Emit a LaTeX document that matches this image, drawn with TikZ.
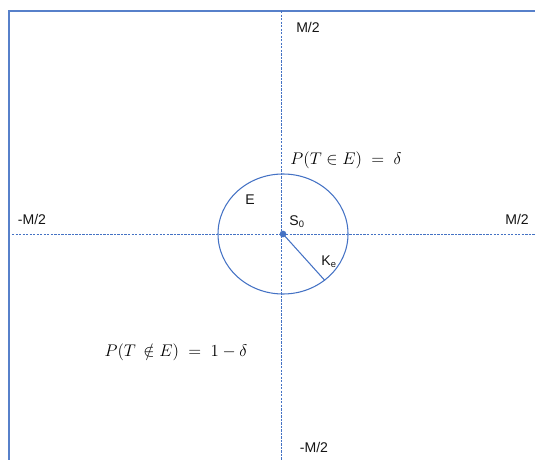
\documentclass[tikz,border=0pt]{standalone}
\usepackage{fontspec}
\setmainfont{Liberation Sans}
\usepackage{tikz}
\usetikzlibrary{positioning,shapes.geometric}
\definecolor{axisblue}{RGB}{68,114,196}
\definecolor{textgray}{RGB}{20,20,20}

\begin{document}
\begin{tikzpicture}[
  x=0.03cm,y=-0.03cm,
  frame/.style={draw=axisblue!90,line width=1pt},
  axis/.style={draw=axisblue,dash pattern=on 2pt off 1pt,line width=0.8pt},
  region/.style={ellipse,draw=axisblue,line width=0.9pt,minimum width=3.9cm,
    minimum height=3.6cm,inner sep=0pt},
  dot/.style={circle,fill=axisblue,inner sep=0pt,minimum size=2mm},
  lbl/.style={font=\fontsize{12}{14}\selectfont,text=textgray,inner sep=0pt},
  prob/.style={font=\fontsize{14.5}{16}\selectfont,text=black,inner sep=0pt},
]
\useasboundingbox (0,0) rectangle (535,460);

% frame, only top and left edges show
\draw[frame] (9,475) -- (9,11) -- (550,11);

% axes
\coordinate (top) at (281.5,11);
\coordinate (bot) at (281.5,462);
\coordinate (lft) at (12,234.5);
\coordinate (rgt) at (537,234.5);
\draw[axis] (top) -- (bot);
\draw[axis] (lft) -- (rgt);

% region E and its radius
\node[region] (E) at (283,234) {};
\node[dot] (S0) at (283,234) {};
\draw[draw=axisblue,line width=0.9pt] (S0.center) -- (E.-48);

% axis ends
\node[lbl] (Mtop) at (308,27) {M/2};
\node[lbl] (Mbot) at (314,447) {-M/2};
\node[lbl] (Mlft) at (32,219) {-M/2};
\node[lbl] (Mrgt) at (517,219) {M/2};

% labels in the picture
\node[lbl] (Elbl) at (250,200) {E};
\node[lbl] (Slbl) at (297,222) {S\textsubscript{0}};
\node[lbl] (Klbl) at (329,262) {K\textsubscript{e}};

\node[prob] (pin) at (346,160) {$P(T\in E)\;=\;\delta$};
\node[prob] (pout) at (176,352) {$P(T\,\notin E)\;=\;1-\delta$};
\end{tikzpicture}
\end{document}
